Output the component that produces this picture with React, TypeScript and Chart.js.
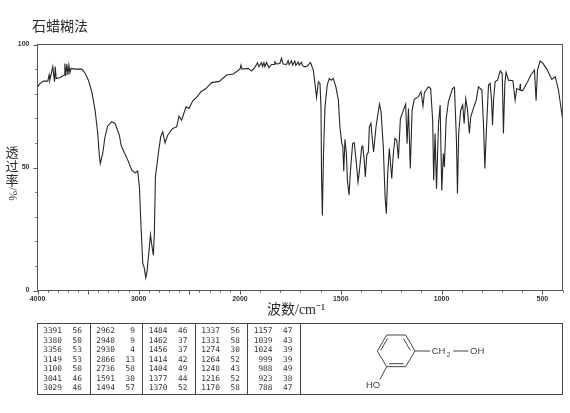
import React, { useEffect, useRef } from "react";
import { Chart, LinearScale, registerables } from "chart.js";

const wavenumbers = [
  4000, 3974, 3941, 3898, 3885, 3878, 3849, 3832, 3825, 3816, 3776, 3737, 3730, 3722, 3710, 3700, 3690, 3680, 3668, 3628,
  3562, 3530, 3497, 3464, 3431, 3405, 3391, 3380, 3356, 3333, 3307, 3267, 3234, 3191, 3174, 3145, 3108, 3069, 3036, 3010,
  2993, 2977, 2960, 2947, 2930, 2917, 2898, 2884, 2868, 2855, 2845, 2835, 2806, 2783, 2763, 2740, 2714, 2665, 2625, 2602,
  2576, 2533, 2503, 2467, 2421, 2385, 2336, 2280, 2204, 2132, 2066, 2000, 1995, 1990, 1959, 1942, 1926, 1913, 1906, 1893,
  1888, 1881, 1876, 1868, 1856, 1843, 1830, 1827, 1818, 1802, 1794, 1786, 1769, 1761, 1756, 1744, 1739, 1728, 1723, 1711,
  1706, 1695, 1690, 1678, 1667, 1650, 1636, 1628, 1620, 1611, 1603, 1598, 1595, 1591, 1586, 1578, 1567, 1557, 1547, 1537,
  1524, 1512, 1504, 1495, 1490, 1485, 1479, 1472, 1467, 1459, 1451, 1441, 1433, 1424, 1414, 1408, 1396, 1391, 1385, 1378,
  1371, 1363, 1358, 1350, 1343, 1337, 1325, 1308, 1300, 1289, 1280, 1274, 1267, 1259, 1247, 1239, 1231, 1222, 1214, 1204,
  1189, 1178, 1171, 1164, 1155, 1146, 1135, 1115, 1102, 1092, 1085, 1065, 1054, 1044, 1039, 1032, 1025, 1015, 1007, 999,
  991, 986, 977, 966, 946, 936, 926, 921, 915, 905, 895, 888, 880, 871, 862, 855, 842, 828, 817, 800,
  792, 785, 779, 767, 759, 752, 747, 742, 734, 722, 709, 699, 693, 686, 680, 668, 646, 635, 627, 612,
  610, 608, 598, 577, 557, 539, 531, 524, 511, 497, 478, 453, 436, 420, 400,
];

const transmittance = [
  82.8, 84.2, 85.1, 85.1, 87.6, 85.5, 91, 84.9, 91, 86.2, 86.6, 87.6, 92.3, 87.2, 92, 87.6, 91.6, 88.5, 90.3, 90,
  90, 88.3, 85.5, 80.8, 73.3, 63.8, 55.7, 51.6, 55.7, 62.5, 66.8, 68.6, 67.9, 63.1, 59, 56.3, 53, 48.9, 47.8, 48.6,
  42, 25.8, 10.9, 9.5, 5.2, 8.1, 16.3, 22.7, 17.7, 14.3, 24.4, 46.2, 55.7, 62.5, 64.5, 60, 63.1, 65.9, 66.5, 70.9,
  69.2, 74.7, 74, 77, 78.8, 80.8, 82.1, 84.5, 85, 87.6, 88, 90, 91.6, 90, 90.3, 89.2, 90.7, 92.6, 91, 92.6,
  91, 92.6, 91, 92.7, 90.6, 91.9, 91.9, 93, 92.1, 92.3, 94.4, 92.1, 91.9, 93.4, 91.8, 93.4, 91.6, 93.3, 91.5, 92.9,
  91.6, 92.8, 91.4, 90.9, 91.2, 92.7, 89.6, 84.2, 78.5, 84.9, 84.2, 74.7, 44.8, 30.5, 54.3, 74.7, 83.5, 86.2, 85.5, 86.2,
  82.8, 77.4, 66.5, 59.7, 59, 48.5, 61.5, 55.7, 44.8, 38.7, 49.6, 59.7, 60.1, 53, 44.1, 48.2, 58.4, 58.7, 54.3, 46.2,
  55, 56.3, 66.5, 67.9, 61.1, 56.3, 66.5, 75.8, 72.6, 58.4, 38, 31.2, 47.5, 57.7, 45.5, 55.7, 61.8, 61.1, 53.6, 69.9,
  73.3, 75.8, 59.7, 74, 49.6, 73.3, 77.7, 78.8, 80.8, 75, 80.4, 82.8, 82.1, 69.2, 44.8, 63.8, 41.4, 68, 75.4, 40.7,
  55.7, 50.2, 69.9, 76.7, 82.1, 82.6, 61.1, 39.4, 63.8, 73.3, 75.4, 67.9, 78, 73.3, 63.8, 70.6, 74, 77.4, 82.8, 81.5,
  67.9, 49.6, 62.5, 83.5, 84.2, 77.4, 67.2, 77.4, 84.9, 85.5, 89.3, 88.3, 63.8, 84.2, 88.7, 85.5, 85.3, 77.4, 82.1, 81.5,
  83.9, 81.5, 81.2, 84.2, 87.6, 89.6, 77.1, 89.6, 93.3, 92.3, 90, 85.8, 86.9, 81.5, 69.9,
];

const xTickValues = [
  4000, 3900, 3800, 3700, 3600, 3500, 3400, 3300, 3200, 3100, 3000, 2900, 2800, 2700, 2600, 2500, 2400, 2300, 2200, 2100,
  2000, 1900, 1800, 1700, 1600, 1500, 1400, 1300, 1200, 1100, 1000, 900, 800, 700, 600, 500, 400,
];
const xLabelledTicks = [4000, 3000, 2000, 1500, 1000, 500];
const yTickValues = [0, 10, 20, 30, 40, 50, 60, 70, 80, 90, 100];
const yLabelledTicks = [0, 50, 100];

const titleText = "石蜡糊法";
const xAxisTitle = "波数/cm⁻¹";
const yAxisChars = ["透", "过", "率"];
const yAxisUnit = "/%";

const peakColumns: [number, number][][] = [
  [[3391, 56], [3380, 50], [3356, 53], [3149, 53], [3100, 50], [3041, 46], [3029, 46]],
  [[2962, 9], [2940, 9], [2930, 4], [2866, 13], [2736, 58], [1591, 30], [1494, 57]],
  [[1484, 46], [1462, 37], [1456, 37], [1414, 42], [1404, 49], [1377, 44], [1370, 52]],
  [[1337, 56], [1331, 58], [1274, 30], [1264, 52], [1248, 43], [1216, 52], [1170, 58]],
  [[1157, 47], [1039, 43], [1024, 39], [999, 39], [988, 49], [923, 38], [788, 47]],
];

const CJK = '"Noto Sans CJK SC"';
const INK = "#2a2a2a";
const FRAME = "#555";
const BREAK_FRACTION = 0.3856;

class BrokenWaveScale extends LinearScale {
  static id = "brokenWave";
  static defaults = LinearScale.defaults;
  getPixelForValue(value: number) {
    if (value === null || value === undefined) return NaN;
    const d =
      value >= 2000
        ? ((4000 - value) / 2000) * BREAK_FRACTION
        : BREAK_FRACTION + ((2000 - value) / 1600) * (1 - BREAK_FRACTION);
    return this.getPixelForDecimal(d);
  }
  getValueForPixel(pixel: number) {
    const d = this.getDecimalForPixel(pixel);
    return d <= BREAK_FRACTION
      ? 4000 - (d / BREAK_FRACTION) * 2000
      : 2000 - ((d - BREAK_FRACTION) / (1 - BREAK_FRACTION)) * 1600;
  }
}

Chart.register(...registerables, BrokenWaveScale as any);

const decorations = {
  id: "decorations",
  afterDraw(chart: any) {
    const { ctx, chartArea: a, scales } = chart;
    ctx.save();

    // plot frame and tick marks
    ctx.strokeStyle = FRAME;
    ctx.lineWidth = 1;
    ctx.strokeRect(a.left, a.top, a.right - a.left, a.bottom - a.top);
    ctx.beginPath();
    xTickValues.forEach((v) => {
      const x = Math.round(scales.x.getPixelForValue(v)) + 0.5;
      ctx.moveTo(x, a.bottom);
      ctx.lineTo(x, a.bottom + (v % 500 === 0 ? 4 : 2));
    });
    yTickValues.forEach((v) => {
      const y = Math.round(scales.y.getPixelForValue(v)) + 0.5;
      ctx.moveTo(a.left, y);
      ctx.lineTo(a.left - (v % 50 === 0 ? 4 : 2), y);
    });
    ctx.stroke();

    // title and axis titles
    ctx.fillStyle = INK;
    ctx.textBaseline = "middle";
    ctx.textAlign = "left";
    ctx.font = `14px ${CJK}`;
    ctx.fillText(titleText, 32, 26);
    ctx.font = `14px "Liberation Serif", ${CJK}`;
    ctx.fillText(xAxisTitle, 267, 310);
    ctx.font = `13px ${CJK}`;
    ctx.textAlign = "center";
    yAxisChars.forEach((c, i) => ctx.fillText(c, 12, 152 + i * 14));
    ctx.save();
    ctx.translate(12, 194);
    ctx.rotate(Math.PI / 2);
    ctx.font = `12px "Liberation Serif"`;
    ctx.fillText(yAxisUnit, 0, 0);
    ctx.restore();

    // peak table
    const tL = 37.5, tT = 323.5, tR = 562.5, tB = 394.5;
    ctx.strokeStyle = "#444";
    ctx.strokeRect(tL, tT, tR - tL, tB - tT);
    ctx.beginPath();
    [90, 142, 195, 247, 300].forEach((x) => {
      ctx.moveTo(x + 0.5, tT);
      ctx.lineTo(x + 0.5, tB);
    });
    ctx.stroke();
    ctx.font = `7.8px "DejaVu Sans Mono"`;
    ctx.fillStyle = "#333";
    ctx.textAlign = "right";
    const waveEnd = [62, 115, 167.5, 220, 272.5];
    peakColumns.forEach((col, c) =>
      col.forEach(([w, t], r) => {
        const y = 331 + r * 9.5;
        ctx.fillText(String(w), waveEnd[c], y);
        ctx.fillText(String(t), waveEnd[c] + 20, y);
      })
    );

    // structure of 3-hydroxybenzyl alcohol
    const p = (x: number, y: number): [number, number] => [290 + x / 3, 300 + y / 3];
    const bond = (x1: number, y1: number, x2: number, y2: number) => {
      ctx.moveTo(...p(x1, y1));
      ctx.lineTo(...p(x2, y2));
    };
    ctx.strokeStyle = "#444";
    ctx.beginPath();
    bond(290, 105, 347, 105);
    bond(347, 105, 375, 153);
    bond(375, 153, 347, 200);
    bond(347, 200, 290, 200);
    bond(290, 200, 262, 153);
    bond(262, 153, 290, 105);
    bond(340, 115, 361, 151);
    bond(297, 191, 340, 191);
    bond(272, 151, 293, 115);
    bond(375, 153, 420, 153);
    bond(490, 153, 535, 153);
    bond(290, 200, 270, 238);
    ctx.stroke();
    ctx.fillStyle = "#444";
    ctx.textAlign = "left";
    ctx.font = `9.5px "Liberation Sans"`;
    ctx.fillText("CH", ...p(425, 154));
    ctx.fillText("OH", ...p(540, 154));
    ctx.fillText("HO", ...p(228, 256));
    ctx.font = `6.5px "Liberation Sans"`;
    ctx.fillText("2", ...p(470, 166));
    ctx.restore();
  },
};

export default function App() {
  const ref = useRef<HTMLCanvasElement>(null);
  useEffect(() => {
    const chart = new Chart(ref.current!, {
      type: "line",
      data: {
        datasets: [
          {
            data: wavenumbers.map((x, i) => ({ x, y: transmittance[i] })),
            borderColor: "#262626",
            borderWidth: 1.1,
            pointRadius: 0,
            tension: 0,
            fill: false,
          },
        ],
      },
      options: {
        animation: false,
        responsive: false,
        events: [],
        layout: { padding: { top: 44.5, right: 7.5, left: 0, bottom: 0 } },
        plugins: { legend: { display: false }, title: { display: false }, tooltip: { enabled: false } },
        scales: {
          x: {
            type: "brokenWave",
            min: 400,
            max: 4000,
            grid: { display: false, drawTicks: false },
            border: { display: false },
            afterBuildTicks: (s: any) => {
              s.ticks = xTickValues.map((value) => ({ value }));
            },
            afterFit: (s: any) => {
              s.height = 122.5;
            },
            ticks: {
              autoSkip: false,
              maxRotation: 0,
              padding: 4,
              color: "#333",
              font: { family: '"Liberation Sans"', size: 7, weight: "bold" },
              callback: (v: any) => (xLabelledTicks.includes(Number(v)) ? String(v) : ""),
            },
          } as any,
          y: {
            type: "linear",
            min: 0,
            max: 100,
            grid: { display: false, drawTicks: false },
            border: { display: false },
            afterBuildTicks: (s: any) => {
              s.ticks = yTickValues.map((value) => ({ value }));
            },
            afterFit: (s: any) => {
              s.width = 37.5;
            },
            ticks: {
              autoSkip: false,
              padding: 8,
              color: "#333",
              font: { family: '"Liberation Sans"', size: 7, weight: "bold" },
              callback: (v: any) => (yLabelledTicks.includes(Number(v)) ? String(v) : ""),
            },
          },
        },
      },
      plugins: [decorations],
    } as any);
    return () => chart.destroy();
  }, []);
  return (
    <div style={{ position: "absolute", left: 0, top: 0, width: 570, height: 413, background: "#fff" }}>
      <canvas ref={ref} width={570} height={413} style={{ display: "block" }} />
    </div>
  );
}
